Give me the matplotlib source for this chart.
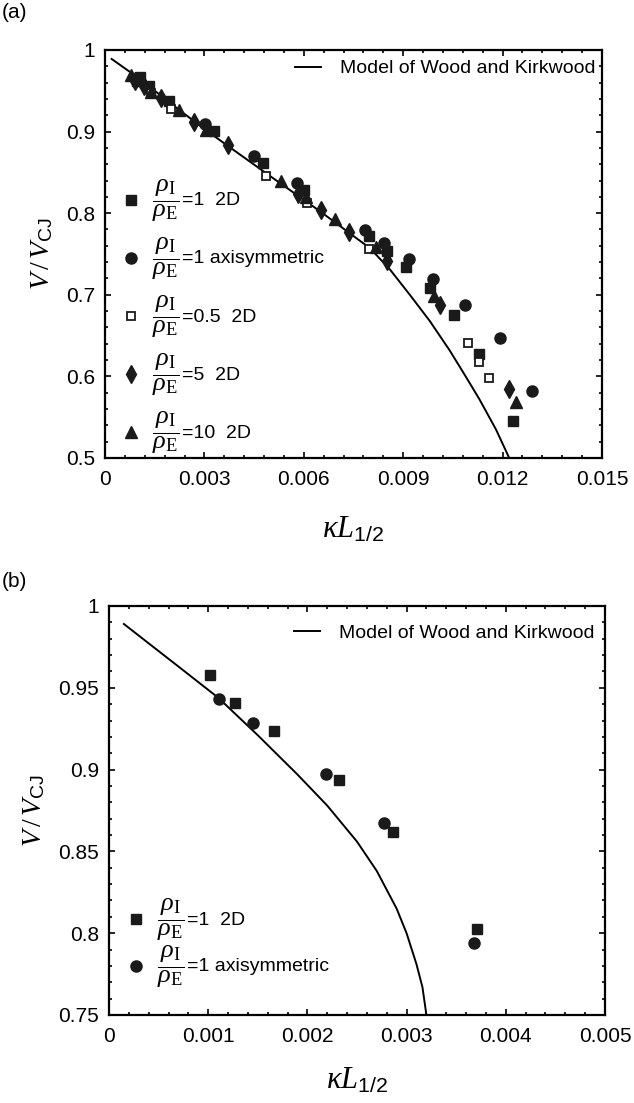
import matplotlib
matplotlib.use("Agg")
import matplotlib.pyplot as plt
from matplotlib.ticker import MultipleLocator

plt.rcParams['font.family'] = ['Liberation Sans', 'DejaVu Sans']
plt.rcParams['mathtext.fontset'] = 'custom'
plt.rcParams['mathtext.rm'] = 'Liberation Serif'
plt.rcParams['mathtext.it'] = 'Liberation Serif:italic'
plt.rcParams['mathtext.sf'] = 'Liberation Sans'

# ---------------- panel (a) data ----------------
a_model_x = [0.0002, 0.001, 0.002, 0.003, 0.004, 0.005, 0.0065, 0.008, 0.0086, 0.0092, 0.0098, 0.0104, 0.0109, 0.0113, 0.0118, 0.0122]
a_model_y = [0.989, 0.966, 0.934, 0.903, 0.874, 0.845, 0.802, 0.757, 0.731, 0.700, 0.668, 0.632, 0.599, 0.572, 0.535, 0.500]

a_sq_x = [0.00106, 0.00096, 0.00134, 0.00194, 0.00330, 0.00478, 0.00602, 0.00798, 0.00852, 0.00909, 0.00980, 0.01054, 0.0113, 0.0123]
a_sq_y = [0.967, 0.962, 0.956, 0.937, 0.901, 0.862, 0.829, 0.772, 0.754, 0.734, 0.708, 0.675, 0.627, 0.545]

a_ci_x = [0.00302, 0.00451, 0.00579, 0.00784, 0.00843, 0.00918, 0.00990, 0.01087, 0.01192, 0.0129]
a_ci_y = [0.909, 0.870, 0.837, 0.779, 0.763, 0.744, 0.719, 0.688, 0.647, 0.582]

a_open_x = [0.00138, 0.00198, 0.00486, 0.00611, 0.00797, 0.01096, 0.0113, 0.0116]
a_open_y = [0.947, 0.928, 0.846, 0.813, 0.756, 0.641, 0.617, 0.598]

a_dia_x = [0.00090, 0.00118, 0.00168, 0.00270, 0.00372, 0.00584, 0.00651, 0.00737, 0.00851, 0.01010, 0.0122]
a_dia_y = [0.962, 0.956, 0.941, 0.912, 0.884, 0.824, 0.804, 0.777, 0.741, 0.687, 0.585]

a_tri_x = [0.00078, 0.00138, 0.00224, 0.00305, 0.00530, 0.00607, 0.00694, 0.00818, 0.00993, 0.0124]
a_tri_y = [0.969, 0.949, 0.926, 0.902, 0.839, 0.820, 0.793, 0.758, 0.699, 0.568]

a_xticks = [0, 0.003, 0.006, 0.009, 0.012, 0.015]
a_xlabels = ['0', '0.003', '0.006', '0.009', '0.012', '0.015']
a_yticks = [0.5, 0.6, 0.7, 0.8, 0.9, 1.0]
a_ylabels = ['0.5', '0.6', '0.7', '0.8', '0.9', '1']

# ---------------- panel (b) data ----------------
b_model_x = [0.00015, 0.0007, 0.0011, 0.0015, 0.0019, 0.0022, 0.0025, 0.0027, 0.0029, 0.0030, 0.0031, 0.00316, 0.0032]
b_model_y = [0.989, 0.963, 0.944, 0.921, 0.897, 0.878, 0.856, 0.838, 0.815, 0.800, 0.781, 0.767, 0.750]

b_sq_x = [0.001015, 0.001273, 0.001667, 0.002319, 0.00286, 0.003707]
b_sq_y = [0.9576, 0.9405, 0.9238, 0.8936, 0.8617, 0.8028]

b_ci_x = [0.001112, 0.001455, 0.002188, 0.002775, 0.003683]
b_ci_y = [0.9433, 0.9285, 0.8975, 0.8672, 0.7938]

b_xticks = [0, 0.001, 0.002, 0.003, 0.004, 0.005]
b_xlabels = ['0', '0.001', '0.002', '0.003', '0.004', '0.005']
b_yticks = [0.75, 0.8, 0.85, 0.9, 0.95, 1.0]
b_ylabels = ['0.75', '0.8', '0.85', '0.9', '0.95', '1']

frac = r'$\dfrac{\rho_{\mathrm{I}}}{\rho_{\mathrm{E}}}$'
a_tails = ['=1  2D', '=1 axisymmetric', '=0.5  2D', '=5  2D', '=10  2D']
b_tails = ['=1  2D', '=1 axisymmetric']
model_label = 'Model of Wood and Kirkwood'

fig = plt.figure(figsize=(6.34, 11.03), dpi=100)
ax1 = fig.add_axes([0.1656, 0.5848, 0.7839, 0.3699])
ax2 = fig.add_axes([0.1719, 0.0798, 0.7823, 0.3708])


def style_axes(ax, xt, xl, yt, yl, xminor, yminor, xpad):
    ax.set_xticks(xt)
    ax.set_xticklabels(xl)
    ax.set_yticks(yt)
    ax.set_yticklabels(yl)
    ax.set_xlim(xt[0], xt[-1])
    ax.set_ylim(yt[0], yt[-1])
    ax.xaxis.set_minor_locator(MultipleLocator(xminor))
    ax.yaxis.set_minor_locator(MultipleLocator(yminor))
    ax.tick_params(which='both', direction='in', top=True, right=True, width=1.2, labelsize=15)
    ax.tick_params(which='major', length=4.5)
    ax.tick_params(which='minor', length=2.5)
    ax.tick_params(axis='x', pad=9)
    ax.tick_params(axis='y', pad=7)
    for s in ax.spines.values():
        s.set_linewidth(1.6)
    ax.set_xlabel(r'$\kappa L_{\mathsf{1/2}}$', fontsize=22, labelpad=xpad)
    ax.set_ylabel(r'$V\,/\,V_{\mathsf{CJ}}$', fontsize=20, labelpad=8)


def frac_legend(ax, handles, tails, spacing, anchor):
    leg = ax.legend(handles, [frac] * len(handles), loc='lower left', frameon=False,
                    fontsize=19, handlelength=0.6, handletextpad=0.5, labelspacing=spacing,
                    borderaxespad=0.0, bbox_to_anchor=anchor)
    for t, tail in zip(leg.get_texts(), tails):
        ax.annotate(tail, xy=(1, 0.5), xycoords=t, xytext=(2, 0), textcoords='offset points',
                    va='center', ha='left', fontsize=14, zorder=6)
    return leg


# panel (a)
line1, = ax1.plot(a_model_x, a_model_y, color='black', lw=1.4)
h_sq, = ax1.plot(a_sq_x, a_sq_y, 's', color='#1a1a1a', ms=7, ls='none')
h_ci, = ax1.plot(a_ci_x, a_ci_y, 'o', color='#1a1a1a', ms=8, ls='none')
h_open, = ax1.plot(a_open_x, a_open_y, 's', mfc='white', mec='#1a1a1a', mew=1.3, ms=5.5, ls='none')
h_dia, = ax1.plot(a_dia_x, a_dia_y, 'd', color='#1a1a1a', ms=9, ls='none')
h_tri, = ax1.plot(a_tri_x, a_tri_y, '^', color='#1a1a1a', ms=8, ls='none')
style_axes(ax1, a_xticks, a_xlabels, a_yticks, a_ylabels, 0.0006, 0.02, 18)

leg1 = ax1.legend([line1], [model_label], loc='upper right', frameon=False, fontsize=14,
                  handlelength=1.3, handletextpad=1.0, borderaxespad=0.0,
                  bbox_to_anchor=(1.003, 0.995))
ax1.add_artist(leg1)
frac_legend(ax1, [h_sq, h_ci, h_open, h_dia, h_tri], a_tails, 0.45, (0.015, -0.022))

# panel (b)
line2, = ax2.plot(b_model_x, b_model_y, color='black', lw=1.4)
hb_sq, = ax2.plot(b_sq_x, b_sq_y, 's', color='#1a1a1a', ms=7, ls='none')
hb_ci, = ax2.plot(b_ci_x, b_ci_y, 'o', color='#1a1a1a', ms=8, ls='none')
style_axes(ax2, b_xticks, b_xlabels, b_yticks, b_ylabels, 0.0002, 0.01, 14)

leg2 = ax2.legend([line2], [model_label], loc='upper right', frameon=False, fontsize=14,
                  handlelength=1.3, handletextpad=1.0, borderaxespad=0.0,
                  bbox_to_anchor=(0.995, 0.975))
ax2.add_artist(leg2)
frac_legend(ax2, [hb_sq, hb_ci], b_tails, 0.0, (0.018, 0.036))

fig.text(0.003, 0.997, '(a)', fontsize=15, va='top', ha='left')
fig.text(0.003, 0.481, '(b)', fontsize=15, va='top', ha='left')

fig.canvas.draw()
fig.savefig('out.png', dpi=100)
